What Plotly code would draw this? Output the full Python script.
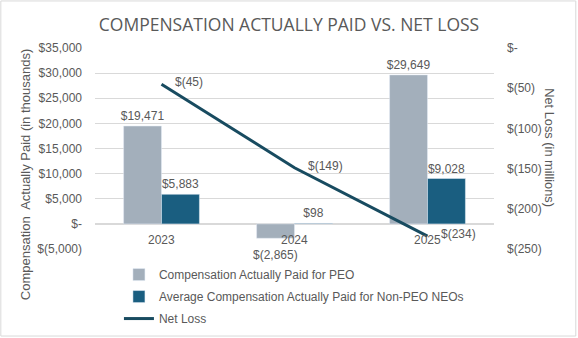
import plotly.graph_objects as go

years = ["2023", "2024", "2025"]
peo_cap = [19471, -2865, 29649]
neo_cap = [5883, 98, 9028]
net_loss = [-45, -149, -234]

left_ticks = [-5000, 0, 5000, 10000, 15000, 20000, 25000, 30000, 35000]
right_ticks = [-250, -200, -150, -100, -50, 0]


def money(v):
    if v == 0:
        return "$-"
    s = f"{abs(v):,}"
    return f"$({s})" if v < 0 else f"${s}"


TXT = "#595959"
FONT = "Liberation Sans, Arial, sans-serif"

fig = go.Figure()
fig.add_trace(go.Bar(
    x=years, y=peo_cap, name="Compensation Actually Paid for PEO",
    marker_color="#A3AFBB", text=[money(v) for v in peo_cap],
    textposition=["outside" if v >= 0 else "none" for v in peo_cap],
    cliponaxis=False, constraintext="none", legendgroup="a",
    textfont=dict(color=TXT, size=12, family=FONT),
))
fig.add_trace(go.Bar(
    x=years, y=neo_cap, name="Average Compensation Actually Paid for Non-PEO NEOs",
    marker_color="#1A5E80", text=[money(v) for v in neo_cap],
    textposition=["outside" if v >= 0 else "none" for v in neo_cap],
    cliponaxis=False, constraintext="none", legendgroup="b",
    textfont=dict(color=TXT, size=12, family=FONT),
))
fig.add_trace(go.Scatter(
    x=years, y=net_loss, name="Net Loss", yaxis="y2", mode="lines", legendgroup="c",
    line=dict(color="#184B60", width=3), cliponaxis=False,
))

annotations = []
# labels for negative bars, placed under the bar end
for i, v in enumerate(peo_cap):
    if v < 0:
        annotations.append(dict(x=i, y=v, xref="x", yref="y", text=money(v), xshift=-19,
                                showarrow=False, yanchor="top", yshift=-8,
                                font=dict(color=TXT, size=12, family=FONT)))
for i, v in enumerate(neo_cap):
    if v < 0:
        annotations.append(dict(x=i, y=v, xref="x", yref="y", text=money(v), xshift=19,
                                showarrow=False, yanchor="top", yshift=-8,
                                font=dict(color=TXT, size=12, family=FONT)))
for i, v in enumerate(net_loss):
    annotations.append(dict(x=i, y=v, xref="x", yref="y2", text=money(v),
                            showarrow=False, xanchor="left", xshift=11, yshift=2,
                            font=dict(color=TXT, size=12, family=FONT)))
for i, yr in enumerate(years):
    annotations.append(dict(x=i, y=0, xref="x", yref="y", text=yr,
                            showarrow=False, yanchor="top", yshift=-7,
                            font=dict(color=TXT, size=12, family=FONT)))
annotations.append(dict(x=-0.175, y=0.368, xref="paper", yref="paper", xanchor="center", yanchor="middle",
                        text="Compensation  Actually Paid (in thousands)",
                        showarrow=False, textangle=-90, font=dict(color=TXT, size=13, family=FONT)))
annotations.append(dict(x=1.14, y=0.502, xref="paper", yref="paper", xanchor="center", yanchor="middle",
                        text="Net Loss (in millions)",
                        showarrow=False, textangle=90, font=dict(color=TXT, size=12.8, family=FONT)))

fig.update_layout(
    width=578, height=338,
    margin=dict(l=95, r=84, t=48, b=89, autoexpand=False),
    paper_bgcolor="white", plot_bgcolor="white",
    barmode="group", bargap=0.43, bargroupgap=0,
    title=dict(text="COMPENSATION ACTUALLY PAID VS. NET LOSS", x=0.5, xanchor="center",
               y=0.925, yanchor="middle", font=dict(family="Open Sans, sans-serif", size=17.5, color=TXT)),
    xaxis=dict(type="category", range=[-0.5, 2.5], showticklabels=False, showgrid=False, zeroline=False),
    yaxis=dict(range=[-5000, 35000], tickvals=left_ticks, ticktext=[money(v) for v in left_ticks],
               showgrid=True, gridcolor="#D9D9D9", gridwidth=1, zeroline=True, zerolinecolor="#D9D9D9",
               tickfont=dict(color=TXT, size=12, family=FONT), ticks="", ticklabelstandoff=12),
    yaxis2=dict(range=[-250, 0], overlaying="y", side="right", tickvals=right_ticks,
                ticktext=[money(v) for v in right_ticks], showgrid=False, zeroline=False,
                tickfont=dict(color=TXT, size=12, family=FONT), ticks="", ticklabelstandoff=12),
    legend=dict(x=0.06, y=-0.055, xanchor="left", yanchor="top", orientation="v",
                font=dict(color=TXT, size=12, family=FONT), tracegroupgap=3, itemwidth=30,
                bgcolor="rgba(0,0,0,0)"),
    annotations=annotations,
    shapes=[dict(type="rect", xref="paper", yref="paper", x0=-0.236, x1=1.205, y0=-0.433, y1=1.234,
                 line=dict(color="#D9D9D9", width=1))],
)

fig.write_html("out.html")
